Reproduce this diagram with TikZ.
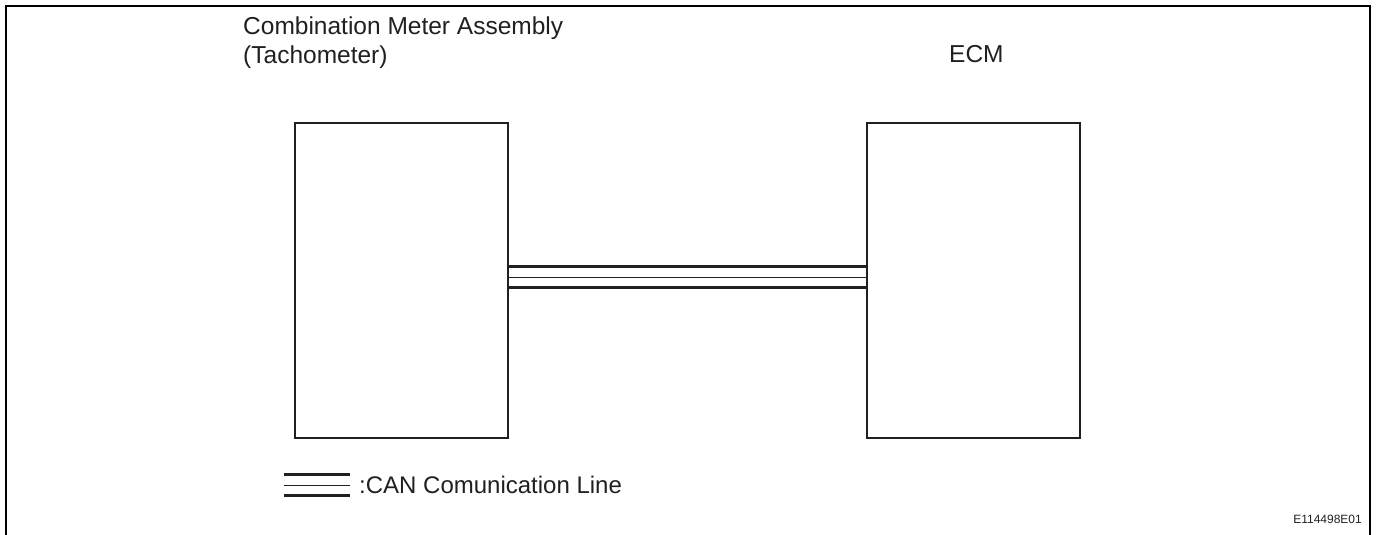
\documentclass[tikz,border=0pt]{standalone}
\usepackage{fontspec}
\setmainfont{Liberation Sans}
\definecolor{ink}{HTML}{231F20}
\begin{document}
\begin{tikzpicture}[x=1pt,y=-1pt,
  unitbox/.style={draw=ink,line width=2pt,minimum width=213pt,minimum height=315pt,inner sep=0pt,anchor=north west},
  lbl/.style={text=ink,inner sep=0pt,font=\fontsize{24.5}{29}\selectfont},
  thickline/.style={draw=ink,line width=3pt},
  thinline/.style={draw=ink,line width=1pt},
  frame/.style={draw=black,line width=2.3pt}]
\useasboundingbox (0,0) rectangle (1376,535);
% frame (open at bottom)
\coordinate (f1) at (6,536);
\coordinate (f2) at (6,6);
\coordinate (f3) at (1370,6);
\coordinate (f4) at (1370,536);
\draw[frame] (f1) -- (f2) -- (f3) -- (f4);
% boxes
\node[unitbox] (cm) at (294,122) {};
\node[unitbox] (ecm) at (866,122) {};
% labels
\node[lbl,anchor=north west,align=left] (cmlbl) at (243,16.5) {Combination Meter Assembly\\(Tachometer)};
\node[lbl,anchor=base west] (ecmlbl) at (949,63) {ECM};
% CAN line
\draw[thickline] ([yshift=14pt]cm.east) -- ([yshift=14pt]ecm.west);
\draw[thinline] ([yshift=3.5pt]cm.east) -- ([yshift=3.5pt]ecm.west);
\draw[thickline] ([yshift=-6.5pt]cm.east) -- ([yshift=-6.5pt]ecm.west);
% legend
\coordinate (la1) at (284,474.5);
\coordinate (lb1) at (350,474.5);
\coordinate (la2) at (284,485);
\coordinate (lb2) at (350,485);
\coordinate (la3) at (284,495.5);
\coordinate (lb3) at (350,495.5);
\draw[thickline] (la1) -- (lb1);
\draw[thinline] (la2) -- (lb2);
\draw[thickline] (la3) -- (lb3);
\node[lbl,anchor=base west,font=\fontsize{24}{29}\selectfont] (legtxt) at (359,493) {:CAN Comunication Line};
\node[text=ink,inner sep=0pt,font=\fontsize{12}{14}\selectfont,anchor=base east] (code) at (1362,523) {E114498E01};
\end{tikzpicture}
\end{document}
